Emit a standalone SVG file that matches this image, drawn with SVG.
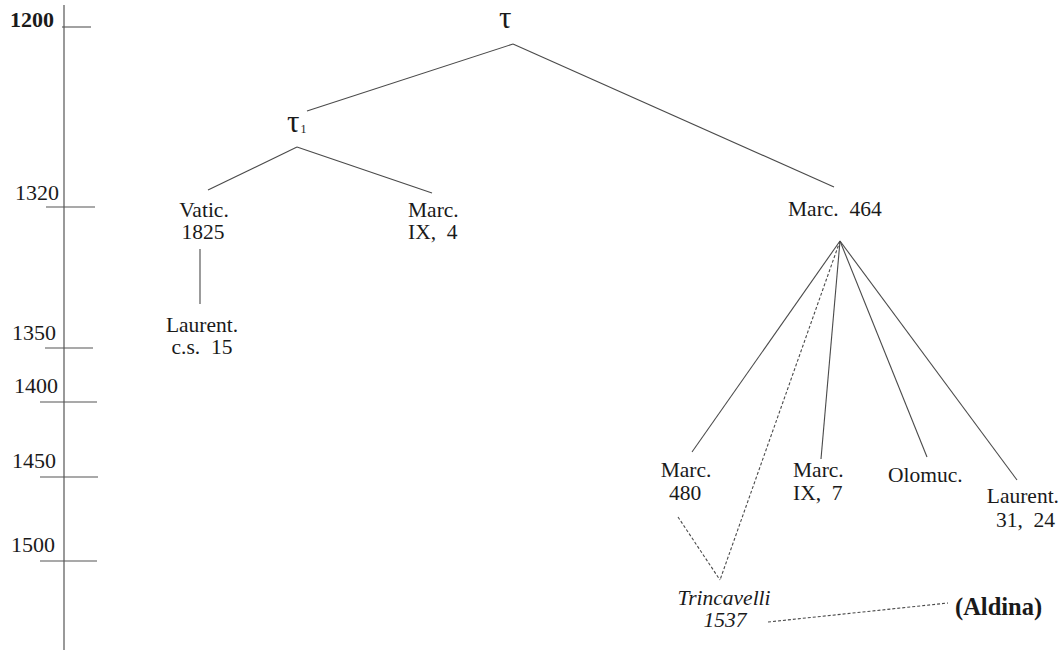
<svg xmlns="http://www.w3.org/2000/svg" width="1062" height="650" viewBox="0 0 1062 650">
  <style>
    .bg { fill: #ffffff; }
    .lbl { font-family: "Liberation Serif", "Times New Roman", serif; font-size: 21.5px; fill: #1a1a1a; }
    .yr { font-family: "Liberation Serif", "Times New Roman", serif; font-size: 22px; fill: #1a1a1a; }
    .tau { font-family: "Liberation Serif", "DejaVu Serif", serif; font-size: 31px; fill: #1a1a1a; }
    .big { font-size: 24.5px; font-weight: bold; }
    .edge { stroke: #4a4a4a; stroke-width: 1.1; fill: none; }
    .dash { stroke: #4a4a4a; stroke-width: 1.1; fill: none; stroke-dasharray: 3 2; }
    .axis { stroke: #555555; stroke-width: 1.2; fill: none; }
    .tick { stroke: #555555; stroke-width: 1.1; }
  </style>
  <rect class="bg" x="0" y="0" width="1062" height="650"/>

  <!-- time axis -->
  <g id="timeline">
    <line class="axis" x1="64" y1="5" x2="64" y2="650"/>
    <line class="tick" x1="62" y1="27" x2="91" y2="27"/>
    <line class="tick" x1="46" y1="207" x2="95" y2="207"/>
    <line class="tick" x1="45" y1="348" x2="93" y2="348"/>
    <line class="tick" x1="40" y1="402" x2="97" y2="402"/>
    <line class="tick" x1="40" y1="477" x2="98" y2="477"/>
    <line class="tick" x1="40" y1="561" x2="97" y2="561"/>
    <text class="yr" x="10" y="27" font-weight="bold">1200</text>
    <text class="yr" x="15" y="200">1320</text>
    <text class="yr" x="12" y="340">1350</text>
    <text class="yr" x="14" y="393">1400</text>
    <text class="yr" x="12" y="468">1450</text>
    <text class="yr" x="11" y="552">1500</text>
  </g>

  <!-- stemma connectors -->
  <g id="connectors">
    <line class="edge" x1="513" y1="44" x2="307" y2="111"/>
    <line class="edge" x1="513" y1="44" x2="834" y2="187"/>
    <line class="edge" x1="297" y1="147" x2="208" y2="190"/>
    <line class="edge" x1="297" y1="147" x2="432" y2="193"/>
    <line class="edge" x1="200" y1="249" x2="200" y2="304"/>
    <line class="edge" x1="840" y1="241" x2="692" y2="452"/>
    <line class="dash" x1="840" y1="241" x2="720" y2="580"/>
    <line class="edge" x1="840" y1="241" x2="821" y2="459"/>
    <line class="edge" x1="840" y1="241" x2="927" y2="457"/>
    <line class="edge" x1="840" y1="241" x2="1017" y2="480"/>
    <line class="dash" x1="678" y1="517" x2="720" y2="580"/>
    <line class="dash" x1="768" y1="622" x2="948" y2="603"/>
  </g>

  <g id="tau"><text class="tau" x="499" y="28">τ</text></g>
  <g id="tau1">
    <text class="tau" x="287" y="132">τ<tspan font-size="12" dx="1" dy="1">1</tspan></text>
  </g>
  <g id="vatic-1825">
    <text class="lbl" text-anchor="middle" x="204" y="217">Vatic.<tspan x="203" dy="22">1825</tspan></text>
  </g>
  <g id="laurent-cs15">
    <text class="lbl" text-anchor="middle" x="202" y="332" xml:space="preserve">Laurent.<tspan x="202" dy="22">c.s.  15</tspan></text>
  </g>
  <g id="marc-ix-4">
    <text class="lbl" x="408" y="217" xml:space="preserve">Marc.<tspan x="408" dy="22">IX,  4</tspan></text>
  </g>
  <g id="marc-464">
    <text class="lbl" x="788" y="216" xml:space="preserve">Marc.  464</text>
  </g>
  <g id="marc-480">
    <text class="lbl" text-anchor="middle" x="686" y="477">Marc.<tspan x="685" dy="23">480</tspan></text>
  </g>
  <g id="marc-ix-7">
    <text class="lbl" x="793" y="477" xml:space="preserve">Marc.<tspan x="793" dy="23">IX,  7</tspan></text>
  </g>
  <g id="olomuc">
    <text class="lbl" x="888" y="482">Olomuc.</text>
  </g>
  <g id="laurent-31-24">
    <text class="lbl" text-anchor="end" x="1059" y="503" xml:space="preserve">Laurent.<tspan x="1055" dy="24">31,  24</tspan></text>
  </g>
  <g id="trincavelli">
    <text class="lbl" font-style="italic" text-anchor="middle" x="724" y="605">Trincavelli<tspan x="725" dy="22">1537</tspan></text>
  </g>
  <g id="aldina">
    <text class="lbl big" x="955" y="615">(Aldina)</text>
  </g>
</svg>
